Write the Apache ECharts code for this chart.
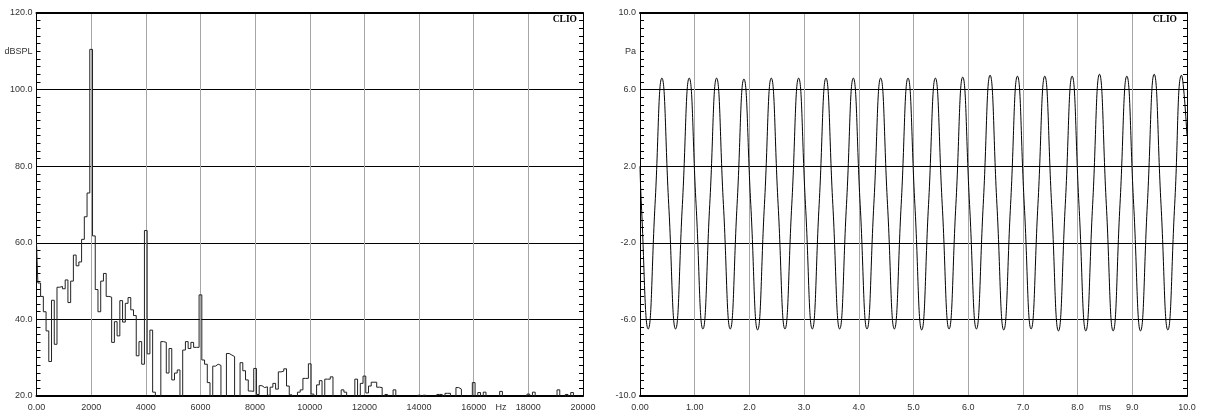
<!DOCTYPE html>
<html><head><meta charset="utf-8">
<script src="https://cdn.jsdelivr.net/npm/echarts@6/dist/echarts.min.js"></script>
<style>html,body{margin:0;padding:0;background:#fff}#c{width:1208px;height:413px}</style>
</head><body><div id="c"></div>
<script>
// Spectrum: level (dBSPL) per 100 Hz bin, bin i centred at i*100 Hz (values below 20 sit on the floor)
const specBinHz = 100;
const specLevels = [
  60, 49.5, 46, 42, 37, 29, 45, 33.5, 48.4, 48.6,
  48, 50.3, 44.4, 50, 56.8, 54, 55, 60.9, 66.8, 73,
  110.5, 61.8, 47.8, 42, 50, 52, 46, 45.8, 34, 39.4,
  35.7, 44.9, 39.3, 44.2, 45.7, 42.5, 41, 30.5, 34.2, 28.3,
  63.2, 31, 37.2, 21, 15, 15, 34.2, 34, 26, 32.4,
  24.2, 26, 26.8, 15, 32, 34.2, 32.4, 34, 32.7, 32.7,
  46.4, 29.4, 28.3, 23.5, 15, 27.8, 28.3, 28, 15, 15,
  31.1, 30.7, 30.3, 15, 15, 28.7, 26.6, 24.2, 21.3, 21.2,
  27.2, 20.4, 22.7, 22.2, 22.4, 20.2, 22.3, 23.3, 21.8, 26.3,
  26.5, 27.1, 22.6, 20.3, 15, 15, 21, 21.6, 24.6, 24.6,
  28.4, 20.5, 15, 22.9, 24, 15, 24.4, 24.4, 25, 15,
  15, 15, 21.6, 21, 15, 15, 15, 24.4, 15, 23.3,
  25.2, 20.8, 22.6, 23.6, 23.6, 22.3, 22.2, 15, 20.4, 15,
  15, 21.6, 15, 15, 15, 15, 15, 15, 15, 15,
  20.2, 15, 20.2, 15, 15, 15, 15, 20.4, 20.4, 15,
  20.7, 20.7, 15, 15, 22.2, 21.8, 15, 15, 15, 15,
  23.5, 15, 20.9, 15, 21, 15, 15, 15, 15, 15,
  21.2, 15, 15, 15, 15, 15, 15, 15, 15, 15,
  20.5, 15, 21, 15, 15, 15, 15, 15, 15, 15,
  15, 21.6, 15, 15, 20.4, 15, 20.9, 15, 15, 15,
  15
];
// Waveform: time (ms) and pressure (Pa) at troughs, zero crossings and peaks
const timeMs = [0, 0.025, 0.15, 0.275, 0.4, 0.525, 0.65, 0.775, 0.9, 1.025, 1.15, 1.275, 1.4, 1.525, 1.65, 1.775, 1.9, 2.025, 2.15, 2.275, 2.4, 2.525, 2.65, 2.775, 2.9, 3.025, 3.15, 3.275, 3.4, 3.525, 3.65, 3.775, 3.9, 4.025, 4.15, 4.275, 4.4, 4.525, 4.65, 4.775, 4.9, 5.025, 5.15, 5.275, 5.4, 5.525, 5.65, 5.775, 5.9, 6.025, 6.15, 6.275, 6.4, 6.525, 6.65, 6.775, 6.9, 7.025, 7.15, 7.275, 7.4, 7.525, 7.65, 7.775, 7.9, 8.025, 8.15, 8.275, 8.4, 8.525, 8.65, 8.775, 8.9, 9.025, 9.15, 9.275, 9.4, 9.525, 9.65, 9.775, 9.9, 10.0];
const pressurePa = [2.0, 0,
  -6.5, 0, 6.6, 0,   -6.5, 0, 6.6, 0,   -6.5, 0, 6.6, 0,   -6.5, 0, 6.55, 0,
  -6.55, 0, 6.6, 0,  -6.5, 0, 6.6, 0,   -6.5, 0, 6.6, 0,   -6.5, 0, 6.6, 0,
  -6.5, 0, 6.6, 0,   -6.5, 0, 6.6, 0,   -6.55, 0, 6.6, 0,  -6.5, 0, 6.65, 0,
  -6.5, 0, 6.75, 0,  -6.55, 0, 6.7, 0,  -6.5, 0, 6.7, 0,   -6.6, 0, 6.7, 0,
  -6.6, 0, 6.8, 0,   -6.6, 0, 6.7, 0,   -6.6, 0, 6.8, 0,   -6.55, 0, 6.75,
  3.6];
// Tick labels
const freqLabels = ['0.00', '2000', '4000', '6000', '8000', '10000', '12000', '14000', '16000', '18000', '20000'];
const timeLabels = ['0.00', '1.00', '2.0', '3.0', '4.0', '5.0', '6.0', '7.0', '8.0', '9.0', '10.0'];
const dbLabels = ['20.0', '40.0', '60.0', '80.0', '100.0', '120.0'];
const paLabels = ['-10.0', '-6.0', '-2.0', '2.0', '6.0', '10.0'];

const FONT = 'Liberation Sans, Arial, sans-serif';
const TXT = '#333';
const lbl = (f, extra) => Object.assign({color: TXT, fontSize: 9, fontFamily: FONT, formatter: f}, extra || {});

function axesFor(g, xr, yr) {
  const xs = [
    {gridIndex: g, type: 'value', min: xr.min, max: xr.max, interval: xr.interval, position: 'bottom',
     axisLine: {show: true, onZero: false, lineStyle: {color: '#000', width: 2}},
     axisTick: {show: false},
     axisLabel: lbl(xr.fmt, {margin: 7, showMinLabel: true, showMaxLabel: true}),
     splitLine: {show: true, lineStyle: {color: '#a6a6a6', width: 1}}},
    {gridIndex: g, type: 'value', min: xr.min, max: xr.max, interval: xr.unitInterval, position: 'bottom',
     axisLine: {show: false, onZero: false}, axisTick: {show: false}, splitLine: {show: false},
     axisLabel: lbl(v => Math.abs(v - xr.unitAt) < 1e-6 ? xr.unit : '', {margin: 7})},
    {gridIndex: g, type: 'value', min: xr.min, max: xr.max, position: 'top',
     axisLine: {show: true, onZero: false, lineStyle: {color: '#000', width: 2}},
     axisTick: {show: false}, axisLabel: {show: false}, splitLine: {show: false}}
  ];
  const ys = [
    {gridIndex: g, type: 'value', min: yr.min, max: yr.max, interval: yr.interval, position: 'left',
     axisLine: {show: true, onZero: false, lineStyle: {color: '#000', width: 1}},
     axisTick: {show: true, inside: true, length: 4, lineStyle: {color: '#000'}},
     minorTick: {show: true, splitNumber: 10, length: 4, lineStyle: {color: '#000'}},
     axisLabel: lbl(yr.fmt, {margin: 4}),
     splitLine: {show: true, lineStyle: {color: '#000', width: 1}}},
    {gridIndex: g, type: 'value', min: yr.min, max: yr.max, interval: yr.unitInterval, position: 'left',
     axisLine: {show: false, onZero: false}, axisTick: {show: false}, splitLine: {show: false},
     axisLabel: lbl(v => Math.abs(v - yr.unitAt) < 1e-6 ? yr.unit : '', {margin: 4})},
    {gridIndex: g, type: 'value', min: yr.min, max: yr.max, interval: yr.interval, position: 'right',
     axisLine: {show: true, onZero: false, lineStyle: {color: '#000', width: 1}},
     axisTick: {show: true, inside: true, length: 4, lineStyle: {color: '#000'}},
     minorTick: {show: true, splitNumber: 10, length: 4, lineStyle: {color: '#000'}},
     axisLabel: {show: false}, splitLine: {show: false}}
  ];
  return {xs, ys};
}

const A = axesFor(0,
  {min: 0, max: 20000, interval: 2000, fmt: v => freqLabels[Math.round(v / 2000)], unitInterval: 1000, unitAt: 17000, unit: 'Hz'},
  {min: 20, max: 120, interval: 20, fmt: v => dbLabels[Math.round((v - 20) / 20)], unitInterval: 10, unitAt: 110, unit: 'dBSPL'});
const B = axesFor(1,
  {min: 0, max: 10, interval: 1, fmt: v => timeLabels[Math.round(v)], unitInterval: 0.5, unitAt: 8.5, unit: 'ms'},
  {min: -10, max: 10, interval: 4, fmt: v => paLabels[Math.round((v + 10) / 4)], unitInterval: 2, unitAt: 8, unit: 'Pa'});

const chart = echarts.init(document.getElementById('c'), null, {renderer: 'canvas'});
chart.setOption({
  animation: false,
  backgroundColor: '#fff',
  grid: [
    {left: 36.5, top: 13, width: 546.5, height: 383, containLabel: false},
    {left: 640, top: 13, width: 547, height: 383, containLabel: false}
  ],
  xAxis: A.xs.concat(B.xs),
  yAxis: A.ys.concat(B.ys),
  series: [
    {type: 'line', xAxisIndex: 0, yAxisIndex: 0, step: 'middle', symbol: 'none', clip: true,
     data: specLevels.map((v, i) => [i * specBinHz, v]),
     lineStyle: {color: '#222', width: 1}},
    {type: 'line', xAxisIndex: 3, yAxisIndex: 3, smooth: true, symbol: 'none', clip: true,
     data: timeMs.map((t, i) => [t, pressurePa[i]]),
     lineStyle: {color: '#000', width: 1}}
  ],
  graphic: [
    {type: 'text', x: 577, y: 20, style: {text: 'CLIO', fill: '#000', font: 'bold 9.5px "Liberation Serif", serif', align: 'right', verticalAlign: 'middle'}},
    {type: 'text', x: 1177, y: 20, style: {text: 'CLIO', fill: '#000', font: 'bold 9.5px "Liberation Serif", serif', align: 'right', verticalAlign: 'middle'}}
  ]
});
</script></body></html>
